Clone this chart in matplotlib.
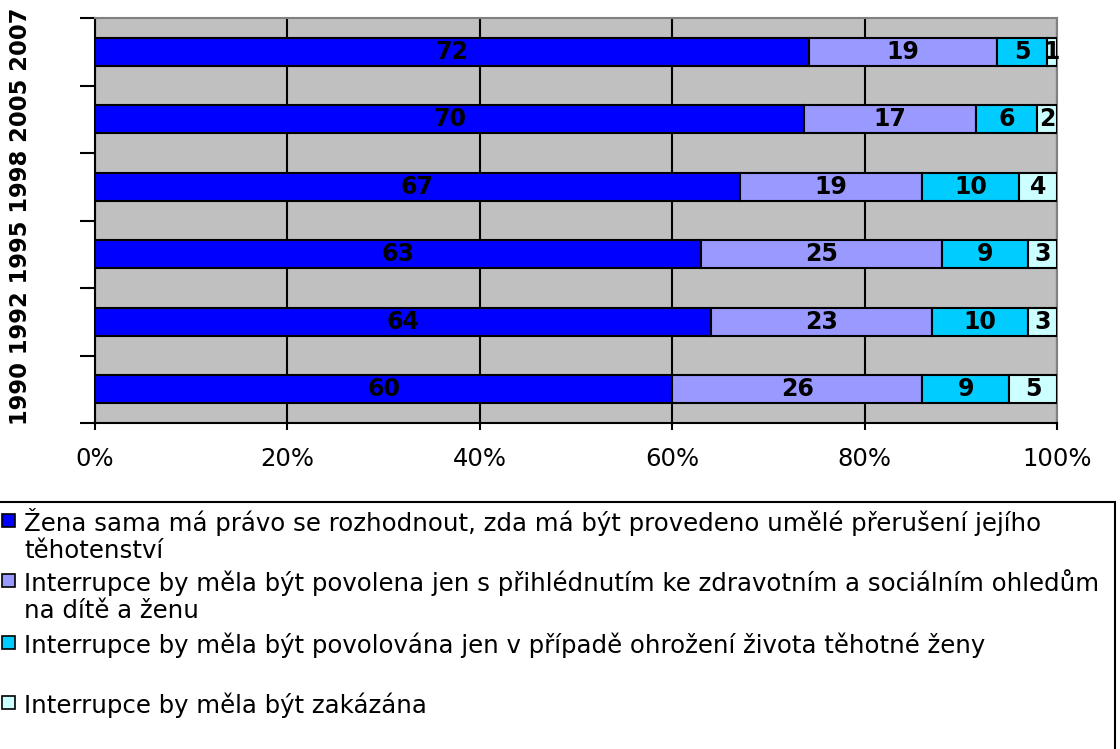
import numpy as np
import matplotlib.pyplot as plt
from matplotlib.patches import Rectangle

years = ['1990', '1992', '1995', '1998', '2005', '2007']
zena_sama = [60, 64, 63, 67, 70, 72]
povolena_ohledy = [26, 23, 25, 19, 17, 19]
ohrozeni_zivota = [9, 10, 9, 10, 6, 5]
zakazana = [5, 3, 3, 4, 2, 1]

series_labels = [
    'Žena sama má právo se rozhodnout, zda má být provedeno umělé přerušení jejího\ntěhotenství',
    'Interrupce by měla být povolena jen s přihlédnutím ke zdravotním a sociálním ohledům\nna dítě a ženu',
    'Interrupce by měla být povolována jen v případě ohrožení života těhotné ženy',
    'Interrupce by měla být zakázána',
]
colors = ['#0000ff', '#9999ff', '#00ccff', '#ccffff']

W, H = 1120, 749
fig = plt.figure(figsize=(W / 100, H / 100), dpi=100)
ax = fig.add_axes([95 / W, 1 - 423 / H, (1057 - 95) / W, (423 - 18) / H])
ax.set_facecolor('#c0c0c0')

# 100% stacked bars, shares of each year's total
data = np.array([zena_sama, povolena_ohledy, ohrozeni_zivota, zakazana], dtype=float)
shares = data / data.sum(axis=0)
y = np.arange(len(years))
left = np.zeros(len(years))
for vals, raw, c in zip(shares, data, colors):
    bars = ax.barh(y, vals, left=left, height=0.42, color=c,
                   edgecolor='black', linewidth=1.5, zorder=3)
    ax.bar_label(bars, labels=[f'{v:.0f}' for v in raw], label_type='center',
                 fontsize=17, fontweight='bold')
    left += vals

ax.set_xlim(0, 1)
ax.set_ylim(-0.5, len(years) - 0.5)
ticks = np.linspace(0, 1, 6)
ax.set_xticks(ticks)
ax.set_xticklabels([f'{t * 100:.0f}%' for t in ticks], fontsize=17.5)
ax.set_yticks(np.arange(-0.5, len(years), 1))
ax.set_yticklabels([])
ax.xaxis.grid(True, color='black', linewidth=1.5)
ax.set_axisbelow(True)
ax.tick_params(axis='y', length=11, width=1.5)
ax.tick_params(axis='x', length=5, width=1.5, pad=12)
for s in ['left', 'bottom']:
    ax.spines[s].set_linewidth(1.5)
for s in ['top', 'right']:
    ax.spines[s].set_color('#808080')
    ax.spines[s].set_linewidth(1.5)

fig.text(21 / W, 1 - 216 / H, ' '.join(years), rotation=90, fontsize=16.3,
         fontweight='bold', ha='center', va='center')

# legend box below the plot
fig.add_artist(Rectangle((-2 / W, -0.1), 1117 / W, (H - 502) / H + 0.1,
                         transform=fig.transFigure, fill=False, ec='black', lw=1.5))
first_baselines = [531, 591, 653, 713]
line_step = 27
for lab, c, b in zip(series_labels, colors, first_baselines):
    fig.add_artist(Rectangle((2 / W, 1 - (b - 4) / H), 13 / W, 13 / H,
                             transform=fig.transFigure, fc=c, ec='black', lw=1.2))
    for i, line in enumerate(lab.split('\n')):
        fig.text(24 / W, 1 - (b + i * line_step) / H, line, va='baseline',
                 ha='left', fontsize=17.6)

plt.savefig('out.png', dpi=100)
